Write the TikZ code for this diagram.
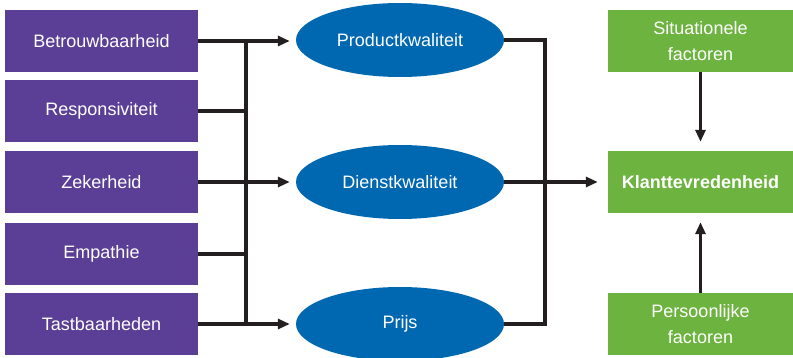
\documentclass[tikz,border=0pt]{standalone}
\usepackage{fontspec}
\setmainfont{Liberation Sans}
\usetikzlibrary{arrows.meta,shapes.geometric}
\definecolor{dimpurple}{HTML}{5B3F96}
\definecolor{qualblue}{HTML}{0067B1}
\definecolor{satgreen}{HTML}{6DB33F}
\definecolor{linegray}{HTML}{231F20}
\tikzset{
  dimbox/.style={rectangle, fill=dimpurple, text=white, minimum width=193pt, minimum height=62pt, inner sep=0pt, font=\fontsize{18}{26}\selectfont},
  qualell/.style={ellipse, fill=qualblue, text=white, minimum width=208pt, minimum height=74pt, inner sep=0pt, font=\fontsize{18}{26}\selectfont},
  factbox/.style={rectangle, fill=satgreen, text=white, minimum width=185pt, minimum height=62pt, inner sep=0pt, align=center, font=\fontsize{18}{26}\selectfont},
  conn/.style={draw=linegray, line width=3.2pt},
  arr/.style={conn, -{Triangle[length=12pt,width=10pt]}},
}
\begin{document}
\begin{tikzpicture}[x=1pt, y=-1pt]
\useasboundingbox (0,0) rectangle (793,358);
% quality dimensions
\node[dimbox] (b1) at (101.5,41) {Betrouwbaarheid};
\node[dimbox] (b2) at (101.5,111) {Responsiviteit};
\node[dimbox] (b3) at (101.5,182) {Zekerheid};
\node[dimbox] (b4) at (101.5,254) {Empathie};
\node[dimbox] (b5) at (101.5,324) {Tastbaarheden};
% perceived quality and price
\node[qualell] (e1) at (400,40) {Productkwaliteit};
\node[qualell] (e2) at (400,182) {Dienstkwaliteit};
\node[qualell] (e3) at (400,324) {Prijs};
% satisfaction and its factors
\node[factbox] (s) at (700.5,41) {Situationele\\factoren};
\node[factbox, font=\fontsize{18}{26}\selectfont\bfseries] (k) at (700.5,182) {Klanttevredenheid};
\node[factbox] (p) at (700.5,324) {Persoonlijke\\factoren};
% bus lines
\coordinate (lbus) at (246,0);
\coordinate (rbus) at (545,0);
\draw[conn] (b1.east -| lbus) -- (b5.east -| lbus);
\draw[conn] (b2.east) -- (b2.east -| lbus);
\draw[conn] (b4.east) -- (b4.east -| lbus);
\draw[arr, shorten >=6pt] (b1.east) -- (e1.west |- b1.east);
\draw[arr, shorten >=6pt] (b3.east) -- (e2.west);
\draw[arr, shorten >=6pt] (b5.east) -- (e3.west);
\draw[conn, line join=miter] (e1.east) -- (e1.east -| rbus) -- (e3.east -| rbus) -- (e3.east);
\draw[arr, shorten >=10pt] (e2.east) -- (k.west);
\draw[arr, shorten >=9pt] (s.south) -- (k.north);
\draw[arr, shorten >=9pt] (p.north) -- (k.south);
\end{tikzpicture}
\end{document}
